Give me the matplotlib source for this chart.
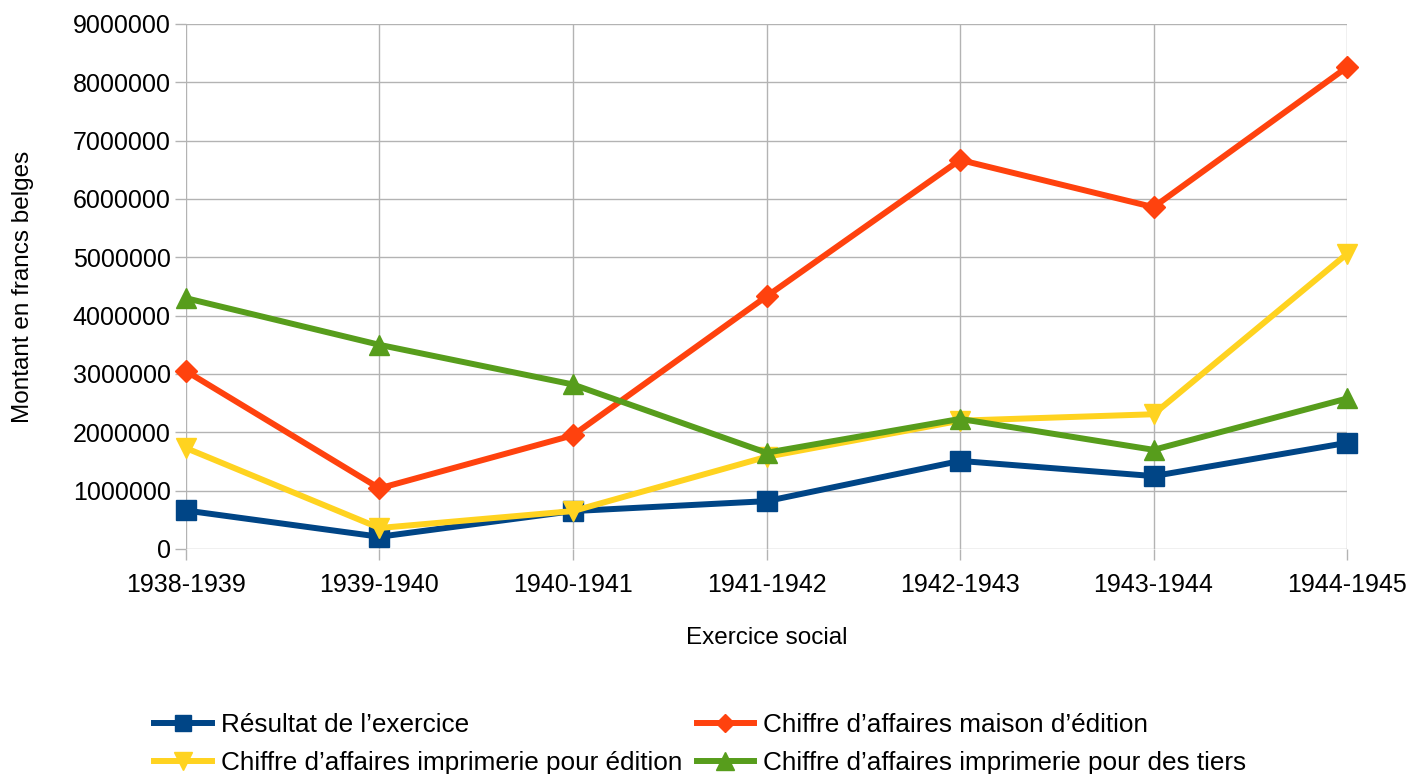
import matplotlib
matplotlib.use("Agg")
import matplotlib.pyplot as plt

plt.rcParams["font.family"] = ["Liberation Sans", "DejaVu Sans"]

years = ["1938-1939", "1939-1940", "1940-1941", "1941-1942",
         "1942-1943", "1943-1944", "1944-1945"]
resultat = [660000, 210000, 650000, 820000, 1510000, 1250000, 1820000]
ca_maison = [3050000, 1040000, 1950000, 4330000, 6670000, 5860000, 8260000]
ca_impr_edition = [1730000, 360000, 650000, 1580000, 2200000, 2310000, 5060000]
ca_impr_tiers = [4300000, 3500000, 2820000, 1650000, 2230000, 1700000, 2580000]

series = [
    ("Résultat de l\u2019exercice", resultat, "#004586", "s", 14),
    ("Chiffre d\u2019affaires maison d\u2019édition", ca_maison, "#ff420e", "D", 11),
    ("Chiffre d\u2019affaires imprimerie pour édition", ca_impr_edition, "#ffd320", "v", 15),
    ("Chiffre d\u2019affaires imprimerie pour des tiers", ca_impr_tiers, "#579d1c", "^", 15),
]

fig = plt.figure(figsize=(14.15, 7.74), dpi=100)
ax = fig.add_axes([0.1314, 0.2907, 0.8206, 0.6783])

x = list(range(len(years)))
handles = []
for label, vals, col, mk, ms in series:
    h, = ax.plot(x, vals, color=col, lw=4.3, marker=mk, ms=ms, label=label,
                 clip_on=False, zorder=3)
    handles.append(h)

ax.set_xlim(0, len(years) - 1)
ax.set_ylim(0, 9000000)
ax.set_yticks(range(0, 9000001, 1000000))
ax.set_yticklabels([str(v) for v in range(0, 9000001, 1000000)])
ax.set_xticks(x)
ax.set_xticklabels(years)
ax.tick_params(labelsize=18, length=8, color="#b3b3b3", width=1, pad=3)
ax.tick_params(axis="x", pad=9)
ax.grid(True, color="#b3b3b3", lw=1)
ax.set_axisbelow(True)
for s in ax.spines.values():
    s.set_visible(False)

ax.set_xlabel("Exercice social", fontsize=17.5, labelpad=22)
ax.set_ylabel("Montant en francs belges", fontsize=17.5, labelpad=28)

# row-major legend order, like the original
order = [0, 2, 1, 3]
fig.legend([handles[i] for i in order], [series[i][0] for i in order],
           loc="lower center", bbox_to_anchor=(0.495, -0.025), ncol=2,
           frameon=False, fontsize=18.8, handlelength=2.2, columnspacing=0.55,
           labelspacing=0.55, handletextpad=0.35, borderaxespad=0.3,
           markerscale=0.85)

fig.savefig("out.png", dpi=100)
